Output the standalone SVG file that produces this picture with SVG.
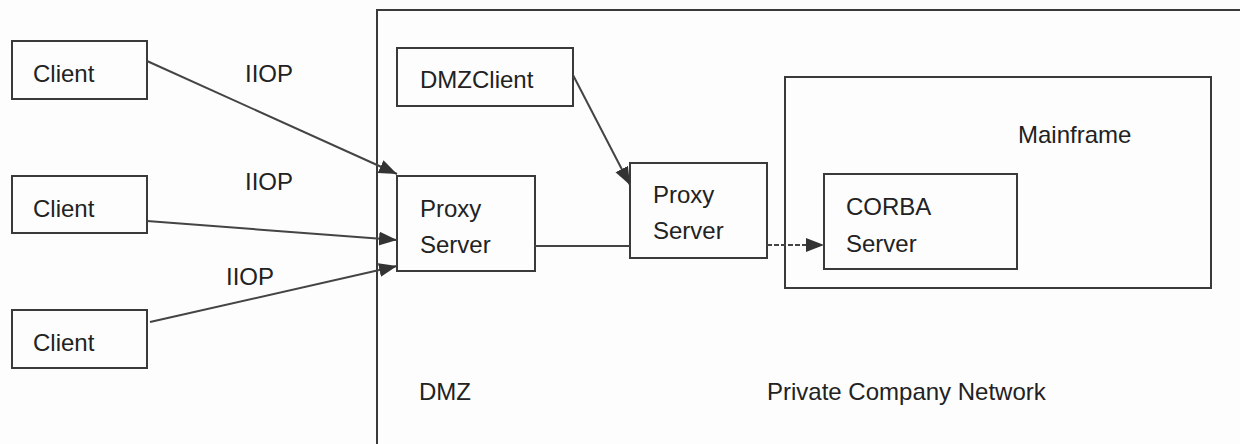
<svg xmlns="http://www.w3.org/2000/svg" width="1240" height="444" viewBox="0 0 1240 444">
<style>
.box{fill:none;stroke:#3a3a3a;stroke-width:2}
.frame{fill:none;stroke:#3a3a3a;stroke-width:2}
.t{font-family:"Liberation Sans",Arial,sans-serif;font-size:24px;fill:#222}
.c{fill:none;stroke:#444;stroke-width:2}
</style>
<defs>
<marker id="ah" markerUnits="userSpaceOnUse" markerWidth="20" markerHeight="16" refX="18" refY="7" orient="auto">
<path d="M0,0 L18,7 L0,14 Z" fill="#333"/>
</marker>
</defs>
<rect width="1240" height="444" fill="#fdfdfd"/>
<g id="zones">
<path class="frame" d="M377,444 L377,10 L1240,10"/>
<text class="t" x="419" y="400">DMZ</text>
<text class="t" x="767" y="400">Private Company Network</text>
</g>
<g id="client1"><rect class="box" x="12" y="41" width="135" height="58"/><text class="t" x="33" y="82">Client</text></g>
<g id="client2"><rect class="box" x="12" y="176" width="135" height="57"/><text class="t" x="33" y="217">Client</text></g>
<g id="client3"><rect class="box" x="12" y="310" width="135" height="58"/><text class="t" x="33" y="351">Client</text></g>
<g id="dmzclient"><rect class="box" x="397" y="48" width="176" height="58"/><text class="t" x="420" y="88">DMZClient</text></g>
<g id="proxy1"><rect class="box" x="397" y="176" width="138" height="95"/><text class="t" x="420" y="217">Proxy</text><text class="t" x="420" y="253">Server</text></g>
<g id="proxy2"><rect class="box" x="630" y="163" width="137" height="95"/><text class="t" x="653" y="203">Proxy</text><text class="t" x="653" y="239">Server</text></g>
<g id="mainframe"><rect class="box" x="785" y="77" width="426" height="211"/><text class="t" x="1018" y="143">Mainframe</text></g>
<g id="corba"><rect class="box" x="824" y="174" width="193" height="95"/><text class="t" x="846" y="215">CORBA</text><text class="t" x="846" y="252">Server</text></g>
<g id="connectors">
<line class="c" x1="147" y1="61" x2="397" y2="174" marker-end="url(#ah)"/>
<line class="c" x1="147" y1="221" x2="397" y2="240" marker-end="url(#ah)"/>
<line class="c" x1="150" y1="322" x2="397" y2="266" marker-end="url(#ah)"/>
<line class="c" x1="573" y1="75" x2="630" y2="185" marker-end="url(#ah)"/>
<line class="c" x1="535" y1="246" x2="630" y2="246"/>
<line class="c" x1="767" y1="245" x2="824" y2="245" stroke-dasharray="5,2" marker-end="url(#ah)"/>
<text class="t" x="245" y="82">IIOP</text>
<text class="t" x="245" y="190">IIOP</text>
<text class="t" x="226" y="285">IIOP</text>
</g>
</svg>
